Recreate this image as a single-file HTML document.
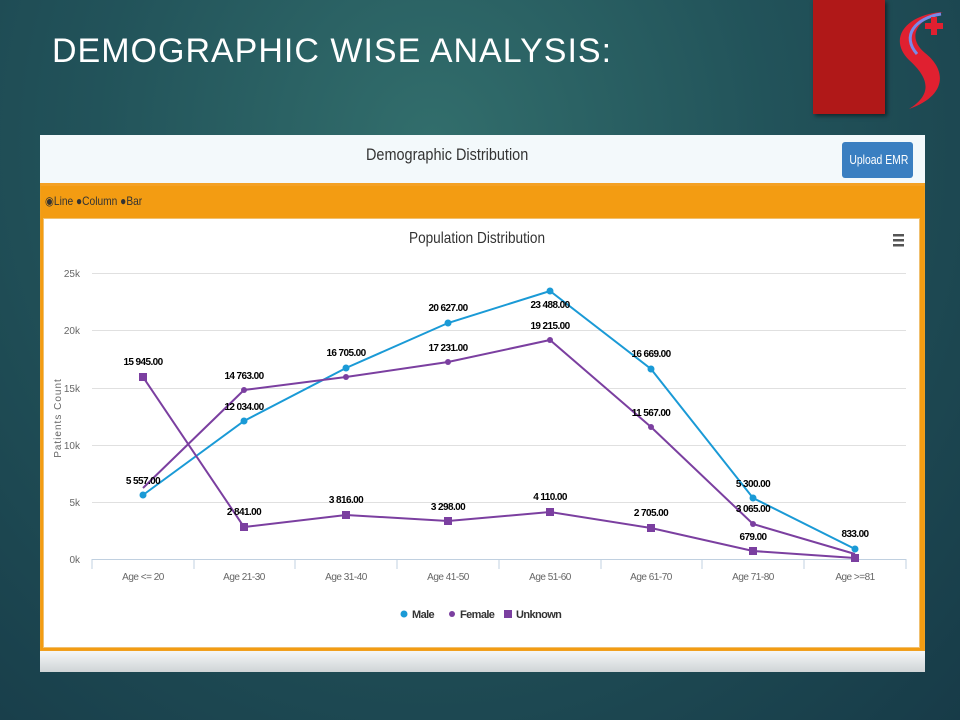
<!DOCTYPE html>
<html><head><meta charset="utf-8"><style>
body{margin:0;width:960px;height:720px;overflow:hidden;font-family:"Liberation Sans",sans-serif;
background:radial-gradient(ellipse at 45% 20%,#326e6c 0%,#22535a 45%,#173b48 100%);position:relative}
.t{position:absolute;left:52px;top:32px;color:#fff;font-size:34px;letter-spacing:1px}
.red{position:absolute;left:813px;top:0;width:72px;height:114px;background:#b01818;box-shadow:2px 2px 4px rgba(0,0,0,.5)}
.panel{position:absolute;left:40px;top:135px;width:885px;height:537px;background:#eef3f5}
.hdr{position:absolute;left:0;top:0;width:885px;height:48px;background:#f3f9fb}
.hdr .h{position:absolute;left:326px;top:10px;font-size:17px;color:#333;transform:scaleX(.85);transform-origin:left}
.btn{position:absolute;left:802px;top:7px;width:71px;height:36px;background:#3a7fc1;border-radius:3px;color:#fff;font-size:13px;line-height:36px;text-align:center;white-space:nowrap;overflow:hidden}
.btn span{display:inline-block;transform:scaleX(.8)}
.ob{position:absolute;left:0;top:48px;width:883px;height:464px;border:1px solid #f0a020;border-top:3px solid #f4a124;background:#f39c12}
.rad{position:absolute;left:4px;top:8px;font-size:12px;color:#333;transform:scaleX(.85);transform-origin:left;white-space:nowrap}
.ch{position:absolute;left:2px;top:32px;width:875px;height:428px;background:#fff;border:1px solid #f0c070}
.bot{position:absolute;left:0;top:516px;width:885px;height:21px;background:linear-gradient(#f5f7f8,#cfd4d6)}
</style></head><body>
<div class="t">DEMOGRAPHIC WISE ANALYSIS:</div>
<div class="red"></div>
<svg style="position:absolute;left:885px;top:8px" width="70" height="104" viewBox="0 0 70 104">
<path d="M58 4 C22 6 2 30 24 52 C44 70 48 86 24 101 C62 88 62 62 40 45 C22 30 30 12 58 4Z" fill="#e02030"/>
<path d="M56 6 C30 10 16 28 32 46" stroke="#7a8ae8" stroke-width="3" fill="none"/>
<rect x="40" y="15" width="18" height="6" fill="#e02030"/><rect x="46" y="9" width="6" height="18" fill="#e02030"/>
</svg>
<div class="panel">
<div class="hdr"><div class="h">Demographic Distribution</div><div class="btn"><span>Upload EMR</span></div></div>
<div class="ob"><div class="rad">◉Line ●Column ●Bar</div><div class="ch"></div></div>
<div class="bot"></div>
</div>
<svg style="position:absolute;left:0;top:0" width="960" height="720" font-family="Liberation Sans, sans-serif">
<text x="477" y="243" text-anchor="middle" font-size="16" fill="#333" textLength="136" lengthAdjust="spacingAndGlyphs">Population Distribution</text>
<g fill="#555"><rect x="893" y="234" width="11" height="2.5"/><rect x="893" y="239" width="11" height="2.5"/><rect x="893" y="244" width="11" height="2.5"/></g>
<g stroke="#e0e0e0"><line x1="92" x2="906" y1="273.5" y2="273.5"/><line x1="92" x2="906" y1="330.5" y2="330.5"/><line x1="92" x2="906" y1="388.5" y2="388.5"/><line x1="92" x2="906" y1="445.5" y2="445.5"/><line x1="92" x2="906" y1="502.5" y2="502.5"/></g>
<line x1="92" x2="906" y1="559.5" y2="559.5" stroke="#c0d0e0"/>
<g stroke="#c0d0e0"><line x1="92" x2="92" y1="559" y2="569"/><line x1="194" x2="194" y1="559" y2="569"/><line x1="295" x2="295" y1="559" y2="569"/><line x1="397" x2="397" y1="559" y2="569"/><line x1="499" x2="499" y1="559" y2="569"/><line x1="601" x2="601" y1="559" y2="569"/><line x1="702" x2="702" y1="559" y2="569"/><line x1="804" x2="804" y1="559" y2="569"/><line x1="906" x2="906" y1="559" y2="569"/></g>
<g font-size="10" fill="#666" text-anchor="end"><text x="80" y="277">25k</text><text x="80" y="334">20k</text><text x="80" y="392">15k</text><text x="80" y="449">10k</text><text x="80" y="506">5k</text><text x="80" y="563">0k</text></g>
<text transform="translate(61,418) rotate(-90)" text-anchor="middle" font-size="10" fill="#666" letter-spacing="1">Patients Count</text>
<g font-size="10" fill="#666" text-anchor="middle" letter-spacing="-0.5"><text x="143" y="580">Age &lt;= 20</text><text x="244" y="580">Age 21-30</text><text x="346" y="580">Age 31-40</text><text x="448" y="580">Age 41-50</text><text x="550" y="580">Age 51-60</text><text x="651" y="580">Age 61-70</text><text x="753" y="580">Age 71-80</text><text x="855" y="580">Age &gt;=81</text></g>
<polyline fill="none" stroke="#1a9ad6" stroke-width="2" points="143,495 244,421 346,368 448,323 550,291 651,369 753,498 855,549"/>
<polyline fill="none" stroke="#7b3fa0" stroke-width="2" points="143,488 244,390 346,377 448,362 550,340 651,427 753,524 855,554"/>
<polyline fill="none" stroke="#7b3fa0" stroke-width="2" points="143,377 244,527 346,515 448,521 550,512 651,528 753,551 855,558"/>
<g fill="#1a9ad6"><circle cx="143" cy="495" r="3.5"/><circle cx="244" cy="421" r="3.5"/><circle cx="346" cy="368" r="3.5"/><circle cx="448" cy="323" r="3.5"/><circle cx="550" cy="291" r="3.5"/><circle cx="651" cy="369" r="3.5"/><circle cx="753" cy="498" r="3.5"/><circle cx="855" cy="549" r="3.5"/></g>
<g fill="#7b3fa0"><rect x="139" y="373" width="8" height="8"/><rect x="240" y="523" width="8" height="8"/><rect x="342" y="511" width="8" height="8"/><rect x="444" y="517" width="8" height="8"/><rect x="546" y="508" width="8" height="8"/><rect x="647" y="524" width="8" height="8"/><rect x="749" y="547" width="8" height="8"/><rect x="851" y="554" width="8" height="8"/>
<circle cx="244" cy="390" r="3"/><circle cx="346" cy="377" r="3"/><circle cx="448" cy="362" r="3"/><circle cx="550" cy="340" r="3"/><circle cx="651" cy="427" r="3"/><circle cx="753" cy="524" r="3"/></g>
<g font-size="10" font-weight="bold" fill="#000" text-anchor="middle" letter-spacing="-0.6">
<text x="143" y="484">5 557.00</text><text x="244" y="410">12 034.00</text><text x="346" y="356">16 705.00</text><text x="448" y="311">20 627.00</text><text x="550" y="308">23 488.00</text><text x="651" y="357">16 669.00</text><text x="753" y="487">5 300.00</text><text x="855" y="537">833.00</text>
<text x="244" y="379">14 763.00</text><text x="448" y="351">17 231.00</text><text x="550" y="329">19 215.00</text><text x="651" y="416">11 567.00</text><text x="753" y="512">3 065.00</text>
<text x="143" y="365">15 945.00</text><text x="244" y="515">2 841.00</text><text x="346" y="503">3 816.00</text><text x="448" y="510">3 298.00</text><text x="550" y="500">4 110.00</text><text x="651" y="516">2 705.00</text><text x="753" y="540">679.00</text></g>
<g font-size="11" font-weight="bold" fill="#333" letter-spacing="-0.6"><circle cx="404" cy="614" r="3.5" fill="#1a9ad6"/><text x="412" y="618">Male</text>
<circle cx="452" cy="614" r="3" fill="#7b3fa0"/><text x="460" y="618">Female</text>
<rect x="504" y="610" width="8" height="8" fill="#7b3fa0"/><text x="516" y="618">Unknown</text></g>
</svg>
</body></html>
